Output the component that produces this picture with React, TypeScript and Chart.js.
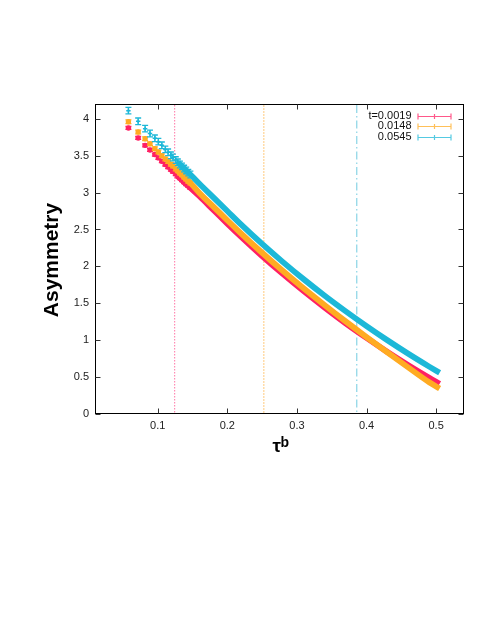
import React, { useEffect, useRef } from 'react';
import { Chart, registerables } from 'chart.js';
Chart.register(...registerables);

// tau^b positions of the plotted points (first ones are individually visible)
const TAU_B = [
  0.058, 0.072, 0.082, 0.089, 0.096, 0.101, 0.106, 0.111, 0.115, 0.119,
  0.122, 0.126, 0.129, 0.132, 0.135, 0.138, 0.141, 0.144, 0.147,
  0.16, 0.18, 0.2, 0.22, 0.25, 0.28, 0.31, 0.34, 0.37, 0.4, 0.43, 0.46, 0.49, 0.505,
];
const SPARSE = 19; // points drawn as separate markers
const LINE_FROM = 12; // index from which the markers merge into a band

const ASYM_T0019 = [
  3.875, 3.74, 3.64, 3.577, 3.515, 3.47, 3.425, 3.38, 3.345, 3.31,
  3.285, 3.25, 3.22, 3.195, 3.17, 3.14, 3.115, 3.09, 3.065,
  2.95, 2.765, 2.58, 2.4, 2.14, 1.895, 1.662, 1.44, 1.228, 1.03, 0.84, 0.66, 0.49, 0.41,
];
const ASYM_T0148 = [
  3.96, 3.82, 3.73, 3.66, 3.595, 3.55, 3.5, 3.455, 3.42, 3.385,
  3.36, 3.32, 3.295, 3.265, 3.24, 3.21, 3.185, 3.155, 3.13,
  2.995, 2.81, 2.625, 2.445, 2.185, 1.937, 1.7, 1.474, 1.255, 1.042, 0.834, 0.63, 0.43, 0.345,
];
const ASYM_T0545 = [
  4.11, 3.965, 3.866, 3.8, 3.735, 3.69, 3.64, 3.585, 3.545, 3.505,
  3.475, 3.44, 3.41, 3.38, 3.355, 3.325, 3.3, 3.27, 3.245,
  3.12, 2.935, 2.75, 2.565, 2.304, 2.058, 1.824, 1.602, 1.392, 1.191, 0.999, 0.816, 0.642, 0.558,
];
const ERR_T0019 = 0.02;
const ERR_T0148 = 0.025;
const ERR_T0545 = 0.045;

const SERIES_LABELS = ['t=0.0019', '0.0148', '0.0545'];
const SERIES_COLORS = ['#ff2063', '#ffab22', '#1cb8d8'];
const REF_LINES_X = [0.1244, 0.2525, 0.386];
const REF_LINE_COLORS = ['#ff82ad', '#ffcf8a', '#7ed0e3'];
const REF_LINE_DASH = [[1.5, 1.5], [2, 1], [8, 3, 1.5, 3]];

const X_TICKS = [0.1, 0.2, 0.3, 0.4, 0.5];
const Y_TICKS = [0, 0.5, 1, 1.5, 2, 2.5, 3, 3.5, 4];
const X_RANGE = [0.01, 0.54];
const Y_RANGE = [0, 4.2];

const FONT = '"Liberation Sans", Arial, Helvetica, sans-serif';

function makeDataset(label: string, ys: number[], color: string, err: number, order: number, isCyan: boolean) {
  return {
    label,
    data: TAU_B.map((x, i) => ({ x, y: ys[i] })),
    errBar: err,
    order,
    showLine: true,
    borderColor: color,
    backgroundColor: color,
    borderWidth: 5.8,
    borderCapStyle: 'butt',
    borderJoinStyle: 'round',
    cubicInterpolationMode: 'monotone',
    segment: {
      borderColor: (ctx: any) => (ctx.p0DataIndex < LINE_FROM ? 'rgba(0,0,0,0)' : color),
    },
    pointStyle: isCyan ? 'cross' : 'circle',
    pointRadius: (ctx: any) => (ctx.dataIndex < SPARSE ? (isCyan ? 2.2 : 2.7) : 0),
    pointBorderWidth: isCyan ? 1.5 : 0,
    pointBorderColor: color,
    pointBackgroundColor: color,
    pointHoverRadius: 0,
  };
}

const errorBarPlugin = {
  id: 'errbars',
  afterDatasetDraw(chart: any, args: any) {
    const ds = chart.data.datasets[args.index];
    const { ctx } = chart;
    const xs = chart.scales.x;
    const ys = chart.scales.y;
    ctx.save();
    ctx.strokeStyle = ds.borderColor;
    ctx.lineWidth = 1.3;
    for (let i = 0; i < SPARSE; i++) {
      const p = ds.data[i];
      const px = xs.getPixelForValue(p.x);
      const y1 = ys.getPixelForValue(p.y + ds.errBar);
      const y2 = ys.getPixelForValue(p.y - ds.errBar);
      ctx.beginPath();
      ctx.moveTo(px, y1);
      ctx.lineTo(px, y2);
      ctx.moveTo(px - 3, y1);
      ctx.lineTo(px + 3, y1);
      ctx.moveTo(px - 3, y2);
      ctx.lineTo(px + 3, y2);
      ctx.stroke();
    }
    ctx.restore();
  },
};

const decorPlugin = {
  id: 'decor',
  beforeDatasetsDraw(chart: any) {
    const { ctx, chartArea: a } = chart;
    const xs = chart.scales.x;
    ctx.save();
    ctx.globalAlpha = 1;
    REF_LINES_X.forEach((v, i) => {
      const px = xs.getPixelForValue(v);
      ctx.strokeStyle = REF_LINE_COLORS[i];
      ctx.lineWidth = 1.1;
      ctx.setLineDash(REF_LINE_DASH[i]);
      ctx.beginPath();
      ctx.moveTo(px, a.top + 1);
      ctx.lineTo(px, a.bottom - 1);
      ctx.stroke();
    });
    ctx.restore();
  },
  afterDraw(chart: any) {
    const { ctx, chartArea: a } = chart;
    const xs = chart.scales.x;
    const ys = chart.scales.y;
    ctx.save();
    // border
    ctx.strokeStyle = '#000';
    ctx.lineWidth = 1;
    ctx.setLineDash([]);
    const L = a.left + 0.5, R = a.right - 0.5, T = a.top + 0.5, B = a.bottom - 0.5;
    ctx.strokeRect(L, T, R - L, B - T);
    // inward ticks on all sides
    ctx.strokeStyle = '#333';
    const tl = 5;
    ctx.beginPath();
    X_TICKS.forEach((v) => {
      const px = Math.round(xs.getPixelForValue(v)) + 0.5;
      ctx.moveTo(px, B);
      ctx.lineTo(px, B - tl);
      ctx.moveTo(px, T);
      ctx.lineTo(px, T + tl);
    });
    Y_TICKS.forEach((v) => {
      const py = Math.round(ys.getPixelForValue(v)) + 0.5;
      ctx.moveTo(L, py);
      ctx.lineTo(L + tl, py);
      ctx.moveTo(R, py);
      ctx.lineTo(R - tl, py);
    });
    ctx.stroke();

    // y title
    ctx.fillStyle = '#000';
    ctx.font = `bold 21px ${FONT}`;
    ctx.textAlign = 'center';
    ctx.textBaseline = 'alphabetic';
    ctx.translate(a.left - 37, (a.top + a.bottom) / 2 + 1);
    ctx.rotate(-Math.PI / 2);
    ctx.fillText('Asymmetry', 0, 0);
    ctx.setTransform(1, 0, 0, 1, 0, 0);

    // x title: tau^b
    const cx = (a.left + a.right) / 2;
    ctx.textAlign = 'left';
    ctx.font = `bold 19px ${FONT}`;
    ctx.fillText('τ', cx - 7, a.bottom + 38);
    ctx.font = `bold 14px ${FONT}`;
    ctx.fillText('b', cx + 1, a.bottom + 33);

    // legend
    const rowY = [a.top + 11.5, a.top + 22.3, a.top + 33.1];
    const textX = a.right - 52.5;
    const s0 = a.right - 46;
    const s1 = a.right - 13;
    ctx.font = `11px ${FONT}`;
    ctx.textAlign = 'right';
    ctx.textBaseline = 'middle';
    SERIES_LABELS.forEach((lab, i) => {
      const y = rowY[i];
      ctx.fillStyle = '#111';
      ctx.fillText(lab, textX, y);
      ctx.strokeStyle = SERIES_COLORS[i];
      ctx.globalAlpha = 0.75;
      ctx.lineWidth = 1.2;
      const yy = Math.round(y) + 0.5;
      ctx.beginPath();
      ctx.moveTo(s0, yy);
      ctx.lineTo(s1, yy);
      ctx.moveTo(s0, yy - 3);
      ctx.lineTo(s0, yy + 3);
      ctx.moveTo(s1, yy - 3);
      ctx.lineTo(s1, yy + 3);
      const m = (s0 + s1) / 2;
      ctx.moveTo(m, yy - 2.5);
      ctx.lineTo(m, yy + 2.5);
      ctx.stroke();
      ctx.globalAlpha = 1;
    });
    ctx.restore();
  },
};

export default function App() {
  const ref = useRef<HTMLCanvasElement | null>(null);
  useEffect(() => {
    if (!ref.current) return;
    const chart = new Chart(ref.current, {
      type: 'scatter',
      data: {
        datasets: [
          makeDataset(SERIES_LABELS[2], ASYM_T0545, SERIES_COLORS[2], ERR_T0545, 0, true),
          makeDataset(SERIES_LABELS[1], ASYM_T0148, SERIES_COLORS[1], ERR_T0148, 1, false),
          makeDataset(SERIES_LABELS[0], ASYM_T0019, SERIES_COLORS[0], ERR_T0019, 2, false),
        ] as any,
      },
      options: {
        animation: false,
        responsive: false,
        events: [],
        layout: { padding: { left: 0, right: 27, top: 104, bottom: 191 } },
        plugins: { legend: { display: false }, tooltip: { enabled: false } },
        scales: {
          x: {
            type: 'linear',
            min: X_RANGE[0],
            max: X_RANGE[1],
            grid: { display: false, drawTicks: false },
            border: { display: false },
            afterBuildTicks: (s: any) => {
              s.ticks = X_TICKS.map((v) => ({ value: v }));
            },
            afterFit: (s: any) => {
              s.height = 30;
            },
            ticks: {
              color: '#222',
              font: { family: FONT, size: 11 },
              padding: 5,
              maxRotation: 0,
              callback: (v: any) => String(v),
            },
          },
          y: {
            type: 'linear',
            min: Y_RANGE[0],
            max: Y_RANGE[1],
            grid: { display: false, drawTicks: false },
            border: { display: false },
            afterBuildTicks: (s: any) => {
              s.ticks = Y_TICKS.map((v) => ({ value: v }));
            },
            afterFit: (s: any) => {
              s.width = 95;
            },
            ticks: {
              color: '#222',
              font: { family: FONT, size: 11 },
              padding: 6,
              callback: (v: any) => String(v),
            },
          },
        },
      } as any,
      plugins: [errorBarPlugin, decorPlugin],
    });
    return () => chart.destroy();
  }, []);
  return (
    <div style={{ position: 'absolute', left: 0, top: 0, width: 491, height: 635, background: '#fff' }}>
      <canvas ref={ref} width={491} height={635} style={{ display: 'block', width: 491, height: 635 }} />
    </div>
  );
}
